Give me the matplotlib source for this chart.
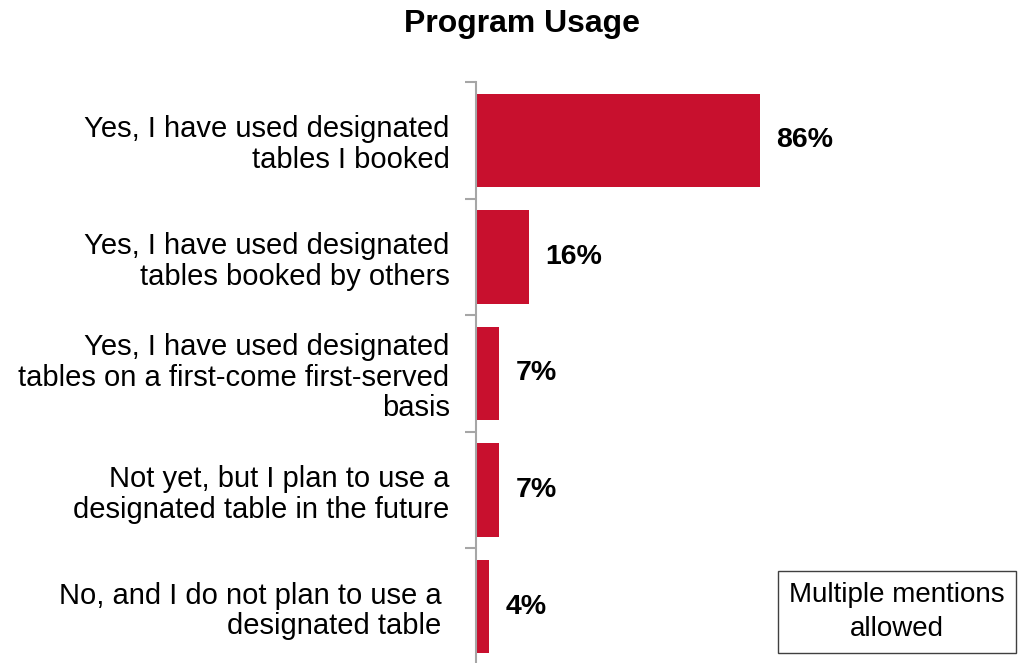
import matplotlib.pyplot as plt
import numpy as np

plt.rcParams['font.family'] = ['Liberation Sans', 'DejaVu Sans']

# 데이터
categories = [
    "Yes, I have used designated\ntables I booked",
    "Yes, I have used designated\ntables booked by others",
    "Yes, I have used designated\ntables on a first-come first-served\nbasis",
    "Not yet, but I plan to use a\ndesignated table in the future",
    "No, and I do not plan to use a \ndesignated table ",
]
values = [86, 16, 7, 7, 4]
value_labels = ["86%", "16%", "7%", "7%", "4%"]

bar_color = '#C8102E'
axis_color = '#A6A6A6'

fig = plt.figure(figsize=(10.22, 6.63), dpi=100)
ax = fig.add_axes([476 / 1022, -2 / 663, 330 / 1022, 583 / 663])

y = np.arange(len(categories))
ax.barh(y, values, height=0.8, color=bar_color)
ax.set_xlim(0, 100)
ax.set_ylim(len(categories) - 0.5, -0.5)

# 막대 옆 값 표시
for yi, v, lab in zip(y, values, value_labels):
    ax.text(v + 5, yi, lab, va='center', ha='left', fontsize=20.5, fontweight='bold')

# 축 스타일
for s in ['top', 'right', 'bottom']:
    ax.spines[s].set_visible(False)
ax.spines['left'].set_color(axis_color)
ax.spines['left'].set_linewidth(1.5)
ax.set_xticks([])
ax.set_yticks(y)
ax.set_yticklabels(categories, fontsize=21, ha='right', linespacing=1.12)
ax.tick_params(axis='y', which='major', length=0, pad=19)
ax.set_yticks(np.arange(-0.5, len(categories) + 0.5, 1), minor=True)
ax.tick_params(axis='y', which='minor', length=8, width=1.5, color=axis_color)

fig.text(522 / 1022, 1 - 24 / 663, "Program Usage", ha='center', va='center',
         fontsize=23, fontweight='bold')

fig.text(897 / 1022, 1 - 612 / 663, "Multiple mentions\nallowed", ha='center', va='center',
         fontsize=20, linespacing=1.4,
         bbox=dict(boxstyle='square,pad=0.4', facecolor='white', edgecolor='#404040', linewidth=1))

fig.savefig('out.png', dpi=100)
